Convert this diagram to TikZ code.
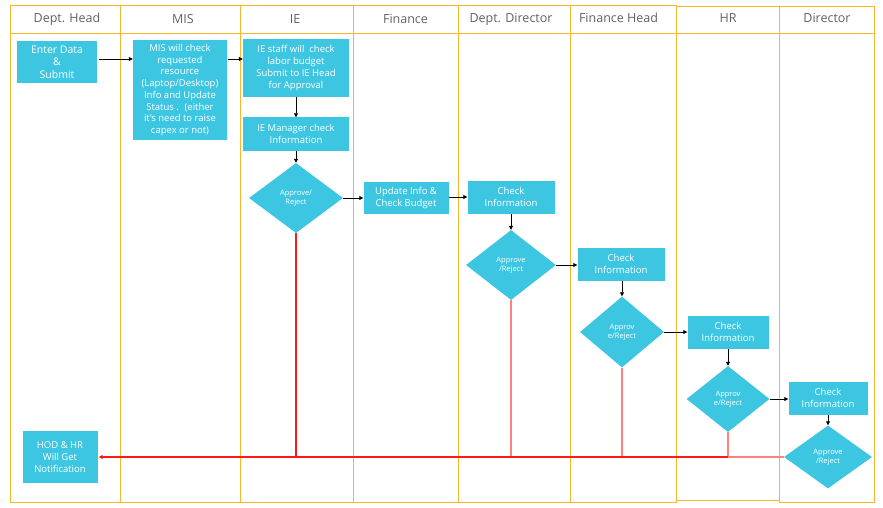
\documentclass[tikz,border=0pt]{standalone}
\usepackage{fontspec}
\setmainfont{Open Sans}
\usetikzlibrary{shapes.geometric,arrows.meta}
\definecolor{boxblue}{HTML}{3DC6E2}
\definecolor{laneor}{HTML}{F9B52C}
\definecolor{hdrgrey}{HTML}{616161}
\definecolor{redA}{HTML}{FF1A1A}
\definecolor{redB}{HTML}{FF8080}
\tikzset{
  lane/.style={draw=laneor,line width=1pt},
  hdr/.style={text=hdrgrey,font=\fontsize{12.5}{14}\selectfont,inner sep=0},
  proc/.style={fill=boxblue,text=white,inner sep=0,align=center,font=\fontsize{9.5}{11.7}\selectfont},
  dec/.style={diamond,fill=boxblue,text=white,inner sep=0,align=center,font=\fontsize{7.5}{8.8}\selectfont},
  arr/.style={-{Triangle[length=4pt,width=4pt]},line width=0.8pt,black},
  rline/.style={line width=1.1pt,redA},
  pline/.style={line width=1.1pt,redB},
}
\begin{document}
\begin{tikzpicture}[x=1pt,y=-1pt]
\useasboundingbox (0,0) rectangle (883,508);
% lanes
\draw[lane] (10,6) rectangle (120,502);
\draw[lane] (120,6) rectangle (240,502);
\draw[lane] (240,6) rectangle (353,502);
\draw[lane] (353,6) rectangle (458,502);
\draw[lane] (458,6) rectangle (570,502);
\draw[lane] (570,6) rectangle (676,502);
\draw[lane,line width=0.7pt] (676,6) rectangle (779,500);
\draw[lane,line width=0.7pt] (779,6) rectangle (874,502);
\draw[lane] (10,34) -- (874,34);
% headers
\node[hdr] (h1) at (67,19) {Dept. Head};
\node[hdr] (h2) at (183,19) {MIS};
\node[hdr] (h3) at (295,19) {IE};
\node[hdr] (h4) at (405.5,19) {Finance};
\node[hdr] (h5) at (511,19) {Dept. Director};
\node[hdr] (h6) at (618.5,18) {Finance Head};
\node[hdr] (h7) at (728,18) {HR};
\node[hdr] (h8) at (827,18) {Director};
% nodes
\node[proc,minimum width=80pt,minimum height=42pt,font=\fontsize{10.5}{12.5}\selectfont] (enter) at (57,62) {Enter Data\\\&\\Submit};
\node[proc,minimum width=94pt,minimum height=100pt] (mis) at (180,90) {MIS will check\\requested\\resource\\(Laptop/Desktop)\\Info and Update\\Status .~ (either\\it's need to raise\\capex or not)};
\node[proc,minimum width=106pt,minimum height=58pt] (ies) at (296,68) {IE staff will~ check\\labor budget\\Submit to IE Head\\for Approval};
\node[proc,minimum width=106pt,minimum height=33pt] (iem) at (296,134) {IE Manager check\\Information};
\node[dec,minimum width=94pt,minimum height=70pt] (d1) at (296,198) {Approve/\\Reject};
\node[proc,minimum width=85pt,minimum height=32pt] (fin) at (406,198) {Update Info \&\\Check Budget};
\node[proc,minimum width=87pt,minimum height=33pt] (c2) at (511,197) {Check\\Information};
\node[dec,minimum width=90pt,minimum height=70pt] (d2) at (511,265) {Approve\\/Reject};
\node[proc,minimum width=87pt,minimum height=33pt] (c3) at (621,264) {Check\\Information};
\node[dec,minimum width=84pt,minimum height=71pt] (d3) at (622,332) {Approv\\e/Reject};
\node[proc,minimum width=81pt,minimum height=33pt] (c4) at (728,332) {Check\\Information};
\node[dec,minimum width=83pt,minimum height=66pt] (d4) at (728,399) {Approv\\e/Reject};
\node[proc,minimum width=79pt,minimum height=33pt] (c5) at (828,398) {Check\\Information};
\node[dec,minimum width=88pt,minimum height=63pt] (d5) at (828,457) {Approve\\/Reject};
\node[proc,minimum width=75pt,minimum height=52pt] (hod) at (60,457) {HOD \& HR\\Will Get\\Notification};
% arrows
\draw[arr] ([xshift=2pt]enter.east |- 0,59) -- (mis.west |- 0,59);
\draw[arr] ([xshift=1pt]mis.east |- 0,59) -- (ies.west |- 0,59);
\draw[arr] (ies) -- (iem);
\draw[arr] (iem) -- (d1);
\draw[arr] (d1) -- (fin);
\draw[arr] (fin.east |- 0,197) -- (c2.west);
\draw[arr] (c2) -- (d2);
\draw[arr] (d2) -- (c3.west |- d2);
\draw[arr] (c3.south -| d3) -- (d3);
\draw[arr] (d3) -- (c4);
\draw[arr] (c4) -- (d4);
\draw[arr] (d4) -- (c5.west |- d4);
\draw[arr] (c5) -- (d5);
% red return lines
\draw[rline] (d1.south) -- (d1.south |- hod);
\draw[pline] (d2.south) -- (d2.south |- hod);
\draw[pline] (d3.south) -- (d3.south |- hod);
\draw[pline] (d4.south) -- (d4.south |- hod);
\draw[pline] (d5.west) -- (d4.south |- hod);
\draw[rline,-{Triangle[length=4pt,width=4pt]}] (d4.south |- hod) -- ([xshift=1pt]hod.east);
\end{tikzpicture}
\end{document}
